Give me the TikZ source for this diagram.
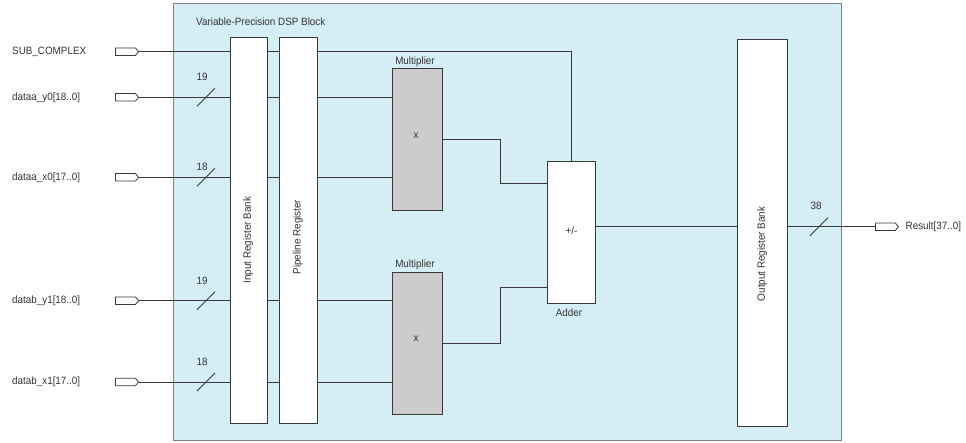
\documentclass[tikz,border=0pt]{standalone}
\usepackage{fontspec}
\setmainfont[FakeStretch=0.93]{Liberation Sans}
\usetikzlibrary{shapes.symbols,calc}
\definecolor{dspfill}{HTML}{D5EDF5}
\definecolor{dspborder}{HTML}{808080}
\definecolor{wire}{HTML}{3A3A3A}
\definecolor{mulfill}{HTML}{CCCCCC}
\definecolor{txt}{HTML}{333333}
\begin{document}
\begin{tikzpicture}[x=1pt,y=-1pt,
 font=\fontsize{10.6}{12}\selectfont, text=txt,
 blk/.style={draw=wire, line width=0.9pt, fill=white, inner sep=0pt, anchor=north west},
 mulbox/.style={blk, fill=mulfill},
 port/.style={signal, signal to=east, signal pointer angle=100, draw=wire, fill=white, line width=0.8pt, minimum width=23pt, minimum height=7.5pt, inner sep=0pt},
 lbl/.style={inner sep=0pt},
 wirel/.style={draw=wire, line width=0.9pt},
 tick/.style={draw=wire, line width=0.8pt}]
\useasboundingbox (0,0) rectangle (966,442);
% DSP block
\node[draw=dspborder, fill=dspfill, line width=1.2pt, inner sep=0pt, anchor=north west, minimum width=668pt, minimum height=437pt] (dsp) at (173,3) {};
\node[lbl, anchor=west] (title) at (196,22) {Variable-Precision DSP Block};
% blocks
\node[blk, minimum width=37pt, minimum height=385.4pt] (inreg) at (229.7,37.3) {};
\node[blk, minimum width=37.4pt, minimum height=385.4pt] (pipe) at (279.3,37.3) {};
\node[mulbox, minimum width=49.4pt, minimum height=141.7pt] (mul1) at (392.3,68.3) {};
\node[mulbox, minimum width=49.4pt, minimum height=141.7pt] (mul2) at (392.3,272.3) {};
\node[blk, minimum width=48.6pt, minimum height=141.7pt] (adder) at (546.7,161.3) {};
\node[blk, minimum width=49.4pt, minimum height=386.7pt] (outreg) at (737.3,39.3) {};
% block texts
\node[lbl, rotate=90] (tinreg) at (248.2,240) {Input Register Bank};
\node[lbl, rotate=90] (tpipe) at (298,237) {Pipeline Register};
\node[lbl, rotate=90] (toutreg) at (762,254) {Output Register Bank};
\node[lbl] (tm1) at (415,62) {Multiplier};
\node[lbl] (tm2) at (415,265) {Multiplier};
\node[lbl] (x1) at (416,136) {x};
\node[lbl] (x2) at (416,339) {x};
\node[lbl] (pm) at (571.5,231) {+/-};
\node[lbl] (tadd) at (569,313) {Adder};
% ports
\node[port] (psub) at (125.5,51.7) {};
\node[port] (py0) at (125.5,97.3) {};
\node[port] (px0) at (125.5,177.3) {};
\node[port] (py1) at (125.5,300.7) {};
\node[port] (px1) at (125.5,382) {};
\node[port] (pres) at (885.4,226.7) {};
\node[lbl, anchor=west] (lsub) at (12,51.7) {SUB\_COMPLEX};
\node[lbl, anchor=west] (ly0) at (12,97.3) {dataa\_y0[18..0]};
\node[lbl, anchor=west] (lx0) at (12,177.3) {dataa\_x0[17..0]};
\node[lbl, anchor=west] (ly1) at (12,300.7) {datab\_y1[18..0]};
\node[lbl, anchor=west] (lx1) at (12,382) {datab\_x1[17..0]};
\node[lbl, anchor=west] (lres) at (905.5,226.7) {Result[37..0]};
% bus widths
\node[lbl] (w1) at (202,77) {19};
\node[lbl] (w2) at (202,167) {18};
\node[lbl] (w3) at (202,281) {19};
\node[lbl] (w4) at (202,362) {18};
\node[lbl] (w5) at (816,206) {38};
% wires
\draw[wirel] (psub.east) -- (inreg.west |- psub.east);
\draw[wirel] (inreg.east |- psub.east) -- (pipe.west |- psub.east);
\draw[wirel] (pipe.east |- psub.east) -| (adder.north);
\foreach \p/\m in {py0/mul1, px0/mul1, py1/mul2, px1/mul2}{
  \draw[wirel] (\p.east) -- (inreg.west |- \p.east);
  \draw[wirel] (inreg.east |- \p.east) -- (pipe.west |- \p.east);
  \draw[wirel] (pipe.east |- \p.east) -- (\m.west |- \p.east);
}
\coordinate (ain1) at (adder.west |- 0,183.3);
\coordinate (ain2) at (adder.west |- 0,287.3);
\draw[wirel] (mul1.east) -- (500.7,0 |- mul1.east) |- (ain1);
\draw[wirel] (mul2.east) -- (500.7,0 |- mul2.east) |- (ain2);
\draw[wirel] (adder.east |- 0,226) -- (outreg.west |- 0,226);
\draw[wirel] (outreg.east |- pres.west) -- (pres.west);
% bus ticks
\draw[tick] (197,106.3) -- (215,88.3);
\draw[tick] (197,186.3) -- (215,168.3);
\draw[tick] (197,309.7) -- (215,291.7);
\draw[tick] (197,391) -- (215,373);
\draw[tick] (810,235.7) -- (828,217.7);
\end{tikzpicture}
\end{document}
